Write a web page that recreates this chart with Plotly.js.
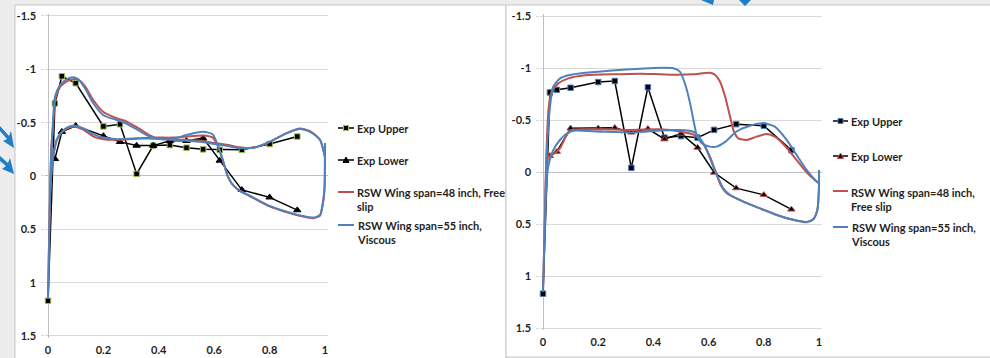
<!DOCTYPE html>
<html>
<head>
<meta charset="utf-8">
<script src="https://cdn.plot.ly/plotly-3.0.1.min.js"></script>
<style>html,body{margin:0;padding:0;background:#ececec;}#chart{width:990px;height:358px;}</style>
</head>
<body>
<div id="chart"></div>
<script>
// ---------- DATA ----------
const xTickVals = [0, 0.2, 0.4, 0.6, 0.8, 1];
const xTickText = ['0', '0.2', '0.4', '0.6', '0.8', '1'];
const yTickVals = [-1.5, -1, -0.5, 0, 0.5, 1, 1.5];
const yTickText = ['-1.5', '-1', '-0.5', '0', '0.5', '1', '1.5'];

const seriesNames = ['Exp Upper', 'Exp Lower', 'RSW Wing span=48 inch, Free slip', 'RSW Wing span=55 inch, Viscous'];
const legendLabelsLeft = ['Exp Upper', 'Exp Lower', 'RSW Wing span=48 inch, Free<br>slip', 'RSW Wing span=55 inch,<br>Viscous'];
const legendLabelsRight = ['Exp Upper', 'Exp Lower', 'RSW Wing span=48 inch,<br>Free slip', 'RSW Wing span=55 inch,<br>Viscous'];

// Left panel - experiment
const leftExpUpperX = [0, 0.025, 0.05, 0.1, 0.2, 0.26, 0.32, 0.38, 0.44, 0.5, 0.56, 0.62, 0.7, 0.8, 0.9];
const leftExpUpper = [1.17, -0.68, -0.935, -0.87, -0.465, -0.485, -0.02, -0.285, -0.29, -0.265, -0.25, -0.245, -0.245, -0.3, -0.37];
const leftExpLowerX = [0.025, 0.05, 0.1, 0.2, 0.26, 0.32, 0.38, 0.44, 0.5, 0.56, 0.62, 0.7, 0.8, 0.9];
const leftExpLower = [-0.16, -0.415, -0.47, -0.375, -0.32, -0.285, -0.285, -0.33, -0.33, -0.355, -0.145, 0.13, 0.2, 0.32];

// Left panel - CFD (closed loops: upper surface TE->LE, then lower surface LE->TE)
const leftCfd48X = [1.0, 0.982, 0.946, 0.91, 0.86, 0.8, 0.75, 0.7, 0.65, 0.6, 0.55, 0.5, 0.45, 0.4, 0.368, 0.332, 0.284, 0.25, 0.2, 0.164, 0.134, 0.112, 0.095, 0.07, 0.045, 0.027, 0.018, 0.012, 0.008, 0.004, 0,
  0.004, 0.008, 0.012, 0.017, 0.031, 0.05, 0.073, 0.1, 0.13, 0.164, 0.2, 0.25, 0.32, 0.38, 0.45, 0.5, 0.56, 0.595, 0.615, 0.633, 0.647, 0.663, 0.687, 0.73, 0.8, 0.862, 0.92, 0.958, 0.982, 0.99, 0.998, 1.0];
const leftCfd48Cp = [-0.18, -0.34, -0.42, -0.445, -0.40, -0.32, -0.27, -0.265, -0.29, -0.31, -0.33, -0.34, -0.34, -0.35, -0.38, -0.44, -0.51, -0.54, -0.60, -0.71, -0.84, -0.9, -0.91, -0.89, -0.84, -0.73, -0.46, -0.25, 0.1, 0.6, 1.15,
  0.6, 0.15, -0.02, -0.15, -0.33, -0.41, -0.45, -0.46, -0.43, -0.37, -0.345, -0.34, -0.35, -0.36, -0.36, -0.37, -0.38, -0.36, -0.27, -0.134, -0.01, 0.07, 0.13, 0.19, 0.285, 0.34, 0.38, 0.395, 0.37, 0.29, 0.13, -0.31];
const leftCfd55X = [1.0, 0.982, 0.946, 0.91, 0.86, 0.8, 0.75, 0.7, 0.65, 0.6, 0.55, 0.5, 0.45, 0.4, 0.368, 0.332, 0.284, 0.248, 0.2, 0.164, 0.134, 0.11, 0.092, 0.067, 0.043, 0.025, 0.017, 0.012, 0.008, 0.004, 0,
  0.004, 0.008, 0.012, 0.017, 0.031, 0.05, 0.073, 0.097, 0.128, 0.164, 0.2, 0.25, 0.32, 0.38, 0.45, 0.5, 0.56, 0.595, 0.615, 0.633, 0.647, 0.663, 0.687, 0.73, 0.8, 0.862, 0.92, 0.958, 0.982, 0.99, 0.998, 1.0];
const leftCfd55Cp = [-0.17, -0.34, -0.415, -0.44, -0.40, -0.32, -0.27, -0.26, -0.28, -0.30, -0.32, -0.33, -0.34, -0.35, -0.37, -0.42, -0.49, -0.525, -0.57, -0.68, -0.82, -0.905, -0.925, -0.905, -0.85, -0.74, -0.46, -0.25, 0.1, 0.6, 1.15,
  0.6, 0.15, -0.02, -0.15, -0.34, -0.415, -0.46, -0.47, -0.445, -0.39, -0.36, -0.345, -0.355, -0.35, -0.345, -0.385, -0.415, -0.39, -0.275, -0.134, -0.01, 0.07, 0.13, 0.187, 0.28, 0.334, 0.375, 0.39, 0.366, 0.29, 0.13, -0.31];

// Right panel - experiment
const rightExpUpperX = [0, 0.025, 0.05, 0.1, 0.2, 0.26, 0.32, 0.38, 0.44, 0.5, 0.56, 0.62, 0.7, 0.8, 0.9];
const rightExpUpper = [1.17, -0.765, -0.79, -0.81, -0.865, -0.875, -0.04, -0.815, -0.33, -0.345, -0.33, -0.405, -0.46, -0.445, -0.21];
const rightExpLowerX = [0.025, 0.05, 0.1, 0.2, 0.26, 0.32, 0.38, 0.44, 0.5, 0.56, 0.62, 0.7, 0.8, 0.9];
const rightExpLower = [-0.155, -0.195, -0.42, -0.42, -0.425, -0.38, -0.415, -0.315, -0.37, -0.235, 0.005, 0.155, 0.22, 0.36];

// Right panel - CFD
const rightCfd48X = [1.0, 0.99, 0.955, 0.919, 0.877, 0.84, 0.81, 0.774, 0.738, 0.708, 0.692, 0.678, 0.66, 0.641, 0.623, 0.605, 0.545, 0.496, 0.424, 0.35, 0.273, 0.152, 0.092, 0.055, 0.031, 0.02, 0.014, 0.01, 0.006, 0.003, 0,
  0.003, 0.007, 0.012, 0.019, 0.043, 0.062, 0.086, 0.104, 0.2, 0.3, 0.424, 0.496, 0.545, 0.58, 0.605, 0.623, 0.641, 0.666, 0.726, 0.786, 0.847, 0.907, 0.955, 0.979, 0.994, 1.0, 1.0];
const rightCfd48Cp = [0.11, 0.09, 0.003, -0.115, -0.25, -0.34, -0.365, -0.34, -0.308, -0.323, -0.387, -0.53, -0.724, -0.87, -0.935, -0.955, -0.94, -0.935, -0.94, -0.945, -0.94, -0.93, -0.9, -0.85, -0.77, -0.6, -0.3, 0.05, 0.5, 0.85, 1.15,
  0.85, 0.45, 0.1, -0.147, -0.18, -0.23, -0.356, -0.404, -0.41, -0.405, -0.41, -0.39, -0.36, -0.276, -0.147, -0.02, 0.11, 0.205, 0.285, 0.35, 0.413, 0.46, 0.48, 0.455, 0.365, 0.14, -0.02];
const rightCfd55X = [1.0, 0.986, 0.955, 0.919, 0.883, 0.84, 0.798, 0.75, 0.70, 0.66, 0.629, 0.605, 0.575, 0.557, 0.545, 0.533, 0.514, 0.496, 0.472, 0.4, 0.3, 0.2, 0.152, 0.092, 0.062, 0.037, 0.025, 0.016, 0.011, 0.007, 0.003, 0,
  0.003, 0.007, 0.011, 0.017, 0.025, 0.037, 0.062, 0.086, 0.11, 0.212, 0.333, 0.424, 0.496, 0.545, 0.569, 0.593, 0.617, 0.635, 0.653, 0.678, 0.726, 0.786, 0.847, 0.907, 0.955, 0.979, 0.994, 1.0, 1.0];
const rightCfd55Cp = [0.11, 0.077, -0.02, -0.163, -0.308, -0.436, -0.468, -0.445, -0.387, -0.29, -0.244, -0.244, -0.276, -0.356, -0.5, -0.66, -0.853, -0.965, -0.997, -1.0, -0.985, -0.965, -0.955, -0.93, -0.9, -0.82, -0.62, -0.3, 0.0, 0.45, 0.85, 1.15,
  0.85, 0.5, 0.2, -0.02, -0.12, -0.21, -0.31, -0.37, -0.397, -0.387, -0.38, -0.4, -0.404, -0.387, -0.323, -0.21, -0.05, 0.06, 0.157, 0.221, 0.285, 0.35, 0.413, 0.46, 0.484, 0.455, 0.365, 0.14, -0.02];

// ---------- STYLE ----------
const RED = '#C0504D', BLUE = '#4F81BD', GRID = '#d9d9d9', AXIS = '#bfbfbf';
const FONT = {family: 'Lato, "Open Sans", sans-serif', size: 11, color: '#1f1f1f', weight: 'bold'};
const W = 990, H = 358;
const P = x => x / W, Q = y => 1 - y / H;

function expTrace(x, y, name, symbol, edge, xa, ya) {
  return {x: x, y: y, name: name, xaxis: xa, yaxis: ya, type: 'scatter', mode: 'lines+markers',
    line: {color: '#000000', width: 1.5},
    marker: {symbol: symbol, size: symbol === 'square' ? 5.5 : 6.5, color: '#000000', line: {color: edge, width: 1}},
    cliponaxis: false, showlegend: false, hoverinfo: 'skip'};
}
function cfdTrace(x, y, name, color, xa, ya) {
  return {x: x, y: y, name: name, xaxis: xa, yaxis: ya, type: 'scatter', mode: 'lines',
    line: {color: color, width: 2, shape: 'spline', smoothing: 0.6}, showlegend: false, hoverinfo: 'skip'};
}

const data = [
  expTrace(leftExpUpperX, leftExpUpper, seriesNames[0], 'square', '#9BBB59', 'x', 'y'),
  expTrace(leftExpLowerX, leftExpLower, seriesNames[1], 'triangle-up', '#000000', 'x', 'y'),
  cfdTrace(leftCfd48X, leftCfd48Cp, seriesNames[2], RED, 'x', 'y'),
  cfdTrace(leftCfd55X, leftCfd55Cp, seriesNames[3], BLUE, 'x', 'y'),
  expTrace(rightExpUpperX, rightExpUpper, seriesNames[0], 'square', BLUE, 'x2', 'y2'),
  expTrace(rightExpLowerX, rightExpLower, seriesNames[1], 'triangle-up', RED, 'x2', 'y2'),
  cfdTrace(rightCfd48X, rightCfd48Cp, seriesNames[2], RED, 'x2', 'y2'),
  cfdTrace(rightCfd55X, rightCfd55Cp, seriesNames[3], BLUE, 'x2', 'y2')
];

// axis geometry (pixel positions of x=0, x=1 and y=-1.5, y=1.5)
function xAxis(px0, px1, anchor) {
  const u = (px1 - px0);
  return {domain: [P(px0 - 0.01 * u), P(px1 + 0.01 * u)], range: [-0.01, 1.01], anchor: anchor,
    tickvals: xTickVals, ticktext: xTickText, ticks: '', showgrid: false, showline: false,
    zeroline: true, zerolinecolor: AXIS, zerolinewidth: 1, tickfont: FONT, ticklabelstandoff: 4, fixedrange: true};
}
function yAxis(pyTop, pyBot, anchor) {
  const u = (pyBot - pyTop) / 3;
  return {domain: [Q(pyBot + 0.02 * u), Q(pyTop - 0.02 * u)], range: [1.52, -1.52], anchor: anchor,
    tickvals: yTickVals, ticktext: yTickText, ticks: 'outside', ticklen: 3, tickcolor: GRID, tickwidth: 1,
    showgrid: true, gridcolor: GRID, gridwidth: 1, showline: false,
    zeroline: true, zerolinecolor: AXIS, zerolinewidth: 1, tickfont: FONT, ticklabelstandoff: 3, fixedrange: true};
}
function tickAxis(base, posY) {
  return {overlaying: base, anchor: 'free', position: posY, side: 'bottom', range: [-0.01, 1.01],
    tickvals: xTickVals, ticks: 'inside', ticklen: 5, tickcolor: AXIS, tickwidth: 1,
    showticklabels: false, showgrid: false, zeroline: false, showline: false, fixedrange: true};
}

// legend (custom, drawn like the Excel legend)
const shapes = [
  {type: 'rect', xref: 'paper', yref: 'paper', x0: P(15), x1: P(506), y0: Q(370), y1: Q(5), fillcolor: '#ffffff', line: {color: '#c6c6c6', width: 1}, layer: 'below'},
  {type: 'rect', xref: 'paper', yref: 'paper', x0: P(506), x1: P(1000), y0: Q(357), y1: Q(5), fillcolor: '#ffffff', line: {color: '#c6c6c6', width: 1}, layer: 'below'},
  // decorative blue arrows of the slide
  {type: 'path', xref: 'paper', yref: 'paper', path: `M ${P(0)},${Q(126)} L ${P(9)},${Q(136)} L ${P(11)},${Q(131)} L ${P(14)},${Q(148)} L ${P(3)},${Q(141)} L ${P(7)},${Q(139)} L ${P(0)},${Q(131)} Z`, fillcolor: '#1f7fc4', line: {width: 0}},
  {type: 'path', xref: 'paper', yref: 'paper', path: `M ${P(0)},${Q(156)} L ${P(8)},${Q(163)} L ${P(10)},${Q(158)} L ${P(14)},${Q(174)} L ${P(2)},${Q(169)} L ${P(6)},${Q(166)} L ${P(0)},${Q(161)} Z`, fillcolor: '#1f7fc4', line: {width: 0}},
  {type: 'path', xref: 'paper', yref: 'paper', path: `M ${P(701)},${Q(0)} L ${P(714)},${Q(0)} L ${P(713)},${Q(5)} Z`, fillcolor: '#1f7fc4', line: {width: 0}},
  {type: 'path', xref: 'paper', yref: 'paper', path: `M ${P(739)},${Q(0)} L ${P(751)},${Q(0)} L ${P(745)},${Q(6)} Z`, fillcolor: '#1f7fc4', line: {width: 0}}
];
const annotations = [];

function legendEntry(xl, xr, ys, yText, label, color, marker, mColor, mEdge) {
  shapes.push({type: 'line', xref: 'paper', yref: 'paper', x0: P(xl), x1: P(xr), y0: Q(ys), y1: Q(ys), line: {color: color, width: marker ? 1.5 : 2}});
  const cx = (xl + xr) / 2;
  if (marker === 'square') {
    shapes.push({type: 'rect', xref: 'paper', yref: 'paper', x0: P(cx - 2.5), x1: P(cx + 2.5), y0: Q(ys + 2.5), y1: Q(ys - 2.5), fillcolor: mColor, line: {color: mEdge, width: 1}});
  } else if (marker === 'triangle') {
    shapes.push({type: 'path', xref: 'paper', yref: 'paper', path: `M ${P(cx - 3)},${Q(ys + 2.5)} L ${P(cx + 3)},${Q(ys + 2.5)} L ${P(cx)},${Q(ys - 3)} Z`, fillcolor: mColor, line: {color: mEdge, width: 1}});
  }
  annotations.push({xref: 'paper', yref: 'paper', x: P(xr + 1), y: Q(yText), xanchor: 'left', yanchor: 'middle', align: 'left',
    text: label, showarrow: false, font: FONT});
}
// left legend
legendEntry(338, 354, 128, 128, legendLabelsLeft[0], '#000000', 'square', '#000000', '#9BBB59');
legendEntry(338, 354, 160, 160, legendLabelsLeft[1], '#000000', 'triangle', '#000000', '#000000');
legendEntry(338, 354, 192, 199.5, legendLabelsLeft[2], RED, null);
legendEntry(338, 354, 225, 232, legendLabelsLeft[3], BLUE, null);
// right legend
legendEntry(833, 848, 121, 121, legendLabelsRight[0], '#000000', 'square', '#000000', BLUE);
legendEntry(833, 848, 156, 156, legendLabelsRight[1], '#000000', 'triangle', '#000000', RED);
legendEntry(833, 848, 191, 199, legendLabelsRight[2], RED, null);
legendEntry(833, 848, 227, 234.5, legendLabelsRight[3], BLUE, null);

const layout = {
  width: W, height: H, margin: {l: 0, r: 0, t: 0, b: 0, pad: 0},
  paper_bgcolor: '#ececec', plot_bgcolor: 'rgba(0,0,0,0)', showlegend: false,
  font: FONT,
  xaxis: xAxis(48, 325, 'y'),
  yaxis: yAxis(16, 336, 'x'),
  xaxis2: xAxis(543, 819, 'y2'),
  yaxis2: yAxis(16, 328, 'x2'),
  xaxis3: tickAxis('x', Q(176)),
  xaxis4: tickAxis('x2', Q(172)),
  shapes: shapes, annotations: annotations
};

Plotly.newPlot('chart', data, layout, {staticPlot: true, displayModeBar: false});
</script>
</body>
</html>
